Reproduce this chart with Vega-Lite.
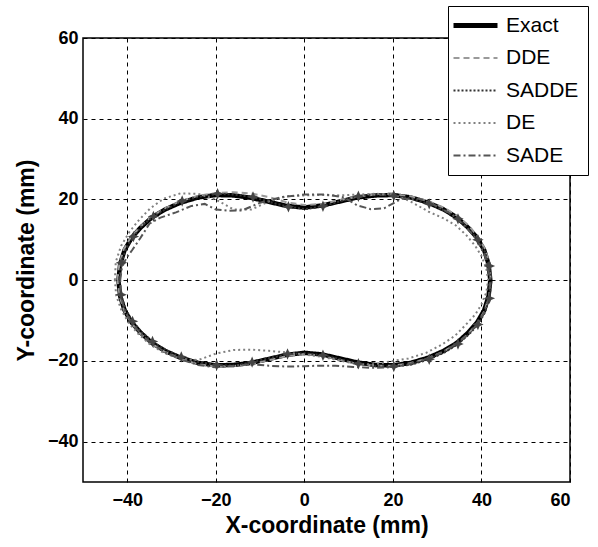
{
  "$schema": "https://vega.github.io/schema/vega-lite/v6.json",
  "width": 487,
  "height": 444,
  "autosize": "none",
  "padding": {"left": 83, "top": 38, "right": 28, "bottom": 65},
  "background": "white",
  "config": {
    "view": {"stroke": "black", "strokeWidth": 1.5},
    "axis": {
      "labelFont": "Liberation Sans", "labelFontWeight": "bold", "labelFontSize": 18, "labelColor": "black",
      "titleFont": "Liberation Sans", "titleFontWeight": "bold", "titleFontSize": 23, "titleColor": "black",
      "grid": true, "gridColor": "black", "gridDash": [4, 4], "gridOpacity": 1, "gridWidth": 1,
      "domain": false, "ticks": false
    },
    "legend": {
      "labelFont": "Liberation Sans", "labelFontSize": 21, "labelColor": "black"
    }
  },
  "data": {"values": [
    {"s":"Exact","i":1,"x":-42.0,"y":0},{"s":"Exact","i":2,"x":-41.6,"y":4},{"s":"Exact","i":3,"x":-40.6,"y":7.5},{"s":"Exact","i":4,"x":-39,"y":10.5},{"s":"Exact","i":5,"x":-37,"y":13},{"s":"Exact","i":6,"x":-34.5,"y":15.5},{"s":"Exact","i":7,"x":-31.5,"y":17.5},{"s":"Exact","i":8,"x":-28,"y":19.2},{"s":"Exact","i":9,"x":-24,"y":20.5},{"s":"Exact","i":10,"x":-20,"y":21.1},{"s":"Exact","i":11,"x":-16,"y":21.0},{"s":"Exact","i":12,"x":-12,"y":20.4},{"s":"Exact","i":13,"x":-8,"y":19.4},{"s":"Exact","i":14,"x":-4,"y":18.4},{"s":"Exact","i":15,"x":0,"y":18.0},{"s":"Exact","i":16,"x":4,"y":18.5},{"s":"Exact","i":17,"x":8,"y":19.5},{"s":"Exact","i":18,"x":12,"y":20.5},{"s":"Exact","i":19,"x":16,"y":21.0},{"s":"Exact","i":20,"x":20,"y":21.1},{"s":"Exact","i":21,"x":24,"y":20.5},{"s":"Exact","i":22,"x":28,"y":19.2},{"s":"Exact","i":23,"x":31.5,"y":17.5},{"s":"Exact","i":24,"x":34.5,"y":15.5},{"s":"Exact","i":25,"x":37,"y":13},{"s":"Exact","i":26,"x":39,"y":10.5},{"s":"Exact","i":27,"x":40.6,"y":7.5},{"s":"Exact","i":28,"x":41.6,"y":4},{"s":"Exact","i":29,"x":42,"y":0},{"s":"Exact","i":30,"x":41.6,"y":-4},{"s":"Exact","i":31,"x":40.6,"y":-7.5},{"s":"Exact","i":32,"x":39,"y":-10.5},{"s":"Exact","i":33,"x":37,"y":-13},{"s":"Exact","i":34,"x":34.5,"y":-15.5},{"s":"Exact","i":35,"x":31.5,"y":-17.5},{"s":"Exact","i":36,"x":28,"y":-19.2},{"s":"Exact","i":37,"x":24,"y":-20.5},{"s":"Exact","i":38,"x":20,"y":-21.1},{"s":"Exact","i":39,"x":16,"y":-21},{"s":"Exact","i":40,"x":12,"y":-20.4},{"s":"Exact","i":41,"x":8,"y":-19.4},{"s":"Exact","i":42,"x":4,"y":-18.4},{"s":"Exact","i":43,"x":0,"y":-18},{"s":"Exact","i":44,"x":-4,"y":-18.5},{"s":"Exact","i":45,"x":-8,"y":-19.5},{"s":"Exact","i":46,"x":-12,"y":-20.5},{"s":"Exact","i":47,"x":-16,"y":-21},{"s":"Exact","i":48,"x":-20,"y":-21.1},{"s":"Exact","i":49,"x":-24,"y":-20.5},{"s":"Exact","i":50,"x":-28,"y":-19.2},{"s":"Exact","i":51,"x":-31.5,"y":-17.5},{"s":"Exact","i":52,"x":-34.5,"y":-15.5},{"s":"Exact","i":53,"x":-37,"y":-13},{"s":"Exact","i":54,"x":-39,"y":-10.5},{"s":"Exact","i":55,"x":-40.6,"y":-7.5},{"s":"Exact","i":56,"x":-41.6,"y":-4},{"s":"Exact","i":57,"x":-42,"y":0},

    {"s":"DDE","i":1,"x":-42.2,"y":0},{"s":"DDE","i":2,"x":-41.8,"y":4},{"s":"DDE","i":3,"x":-40.8,"y":7.6},{"s":"DDE","i":4,"x":-39.2,"y":10.6},{"s":"DDE","i":5,"x":-37.1,"y":13.2},{"s":"DDE","i":6,"x":-34.6,"y":15.7},{"s":"DDE","i":7,"x":-31.5,"y":17.8},{"s":"DDE","i":8,"x":-28,"y":19.6},{"s":"DDE","i":9,"x":-24,"y":20.9},{"s":"DDE","i":10,"x":-20,"y":21.6},{"s":"DDE","i":11,"x":-16,"y":21.8},{"s":"DDE","i":12,"x":-12,"y":21.5},{"s":"DDE","i":13,"x":-8,"y":20.6},{"s":"DDE","i":14,"x":-4,"y":19.3},{"s":"DDE","i":15,"x":0,"y":18.6},{"s":"DDE","i":16,"x":4,"y":18.9},{"s":"DDE","i":17,"x":8,"y":19.8},{"s":"DDE","i":18,"x":12,"y":20.7},{"s":"DDE","i":19,"x":16,"y":21.2},{"s":"DDE","i":20,"x":20,"y":21.3},{"s":"DDE","i":21,"x":24,"y":20.8},{"s":"DDE","i":22,"x":28,"y":19.6},{"s":"DDE","i":23,"x":31.6,"y":17.9},{"s":"DDE","i":24,"x":34.8,"y":15.8},{"s":"DDE","i":25,"x":37.3,"y":13.3},{"s":"DDE","i":26,"x":39.3,"y":10.6},{"s":"DDE","i":27,"x":40.9,"y":7.5},{"s":"DDE","i":28,"x":41.8,"y":4},{"s":"DDE","i":29,"x":42.1,"y":0},{"s":"DDE","i":30,"x":41.7,"y":-4},{"s":"DDE","i":31,"x":40.7,"y":-7.6},{"s":"DDE","i":32,"x":39.1,"y":-10.6},{"s":"DDE","i":33,"x":37.1,"y":-13.2},{"s":"DDE","i":34,"x":34.5,"y":-15.7},{"s":"DDE","i":35,"x":31.4,"y":-17.7},{"s":"DDE","i":36,"x":27.8,"y":-19.4},{"s":"DDE","i":37,"x":23.8,"y":-20.6},{"s":"DDE","i":38,"x":19.8,"y":-21.2},{"s":"DDE","i":39,"x":15.8,"y":-21.2},{"s":"DDE","i":40,"x":11.8,"y":-20.7},{"s":"DDE","i":41,"x":7.8,"y":-19.7},{"s":"DDE","i":42,"x":3.8,"y":-18.7},{"s":"DDE","i":43,"x":0,"y":-18.3},{"s":"DDE","i":44,"x":-4,"y":-18.8},{"s":"DDE","i":45,"x":-8,"y":-19.8},{"s":"DDE","i":46,"x":-12,"y":-20.8},{"s":"DDE","i":47,"x":-16,"y":-21.3},{"s":"DDE","i":48,"x":-20,"y":-21.4},{"s":"DDE","i":49,"x":-24,"y":-20.8},{"s":"DDE","i":50,"x":-28,"y":-19.5},{"s":"DDE","i":51,"x":-31.6,"y":-17.7},{"s":"DDE","i":52,"x":-34.6,"y":-15.7},{"s":"DDE","i":53,"x":-37.1,"y":-13.2},{"s":"DDE","i":54,"x":-39.1,"y":-10.6},{"s":"DDE","i":55,"x":-40.7,"y":-7.6},{"s":"DDE","i":56,"x":-41.7,"y":-4},{"s":"DDE","i":57,"x":-42.2,"y":0},

    {"s":"SADDE","i":1,"x":-41.8,"y":0.5},{"s":"SADDE","i":2,"x":-41.3,"y":4.3},{"s":"SADDE","i":3,"x":-40.3,"y":7.8},{"s":"SADDE","i":4,"x":-38.6,"y":10.8},{"s":"SADDE","i":5,"x":-36.7,"y":13.5},{"s":"SADDE","i":6,"x":-34.1,"y":15.8},{"s":"SADDE","i":7,"x":-31.1,"y":17.7},{"s":"SADDE","i":8,"x":-27.6,"y":19.6},{"s":"SADDE","i":9,"x":-23.6,"y":20.7},{"s":"SADDE","i":10,"x":-19.6,"y":21.4},{"s":"SADDE","i":11,"x":-15.6,"y":21.2},{"s":"SADDE","i":12,"x":-11.6,"y":20.6},{"s":"SADDE","i":13,"x":-7.6,"y":19.3},{"s":"SADDE","i":14,"x":-3.6,"y":18.2},{"s":"SADDE","i":15,"x":0.2,"y":17.6},{"s":"SADDE","i":16,"x":4.2,"y":18.3},{"s":"SADDE","i":17,"x":8.2,"y":19.6},{"s":"SADDE","i":18,"x":12.2,"y":20.8},{"s":"SADDE","i":19,"x":16.2,"y":21.3},{"s":"SADDE","i":20,"x":20.2,"y":20.9},{"s":"SADDE","i":21,"x":24.2,"y":20.2},{"s":"SADDE","i":22,"x":28.2,"y":18.9},{"s":"SADDE","i":23,"x":31.7,"y":17.2},{"s":"SADDE","i":24,"x":34.7,"y":15.2},{"s":"SADDE","i":25,"x":37.2,"y":12.6},{"s":"SADDE","i":26,"x":39.2,"y":10.0},{"s":"SADDE","i":27,"x":40.8,"y":7},{"s":"SADDE","i":28,"x":41.8,"y":3.5},{"s":"SADDE","i":29,"x":42.2,"y":-0.5},{"s":"SADDE","i":30,"x":41.8,"y":-4.5},{"s":"SADDE","i":31,"x":40.8,"y":-8},{"s":"SADDE","i":32,"x":39.2,"y":-11},{"s":"SADDE","i":33,"x":37.2,"y":-13.4},{"s":"SADDE","i":34,"x":34.7,"y":-15.8},{"s":"SADDE","i":35,"x":31.7,"y":-17.9},{"s":"SADDE","i":36,"x":28.2,"y":-19.6},{"s":"SADDE","i":37,"x":24.2,"y":-20.9},{"s":"SADDE","i":38,"x":20.2,"y":-21.4},{"s":"SADDE","i":39,"x":16.2,"y":-21.3},{"s":"SADDE","i":40,"x":12.2,"y":-20.7},{"s":"SADDE","i":41,"x":8.2,"y":-19.6},{"s":"SADDE","i":42,"x":4.2,"y":-18.6},{"s":"SADDE","i":43,"x":0.2,"y":-18.1},{"s":"SADDE","i":44,"x":-3.8,"y":-18.3},{"s":"SADDE","i":45,"x":-7.8,"y":-19.3},{"s":"SADDE","i":46,"x":-11.8,"y":-20.3},{"s":"SADDE","i":47,"x":-15.8,"y":-21.2},{"s":"SADDE","i":48,"x":-19.8,"y":-21},{"s":"SADDE","i":49,"x":-23.8,"y":-20.3},{"s":"SADDE","i":50,"x":-27.8,"y":-19.0},{"s":"SADDE","i":51,"x":-31.3,"y":-17.3},{"s":"SADDE","i":52,"x":-34.3,"y":-15.2},{"s":"SADDE","i":53,"x":-36.8,"y":-12.8},{"s":"SADDE","i":54,"x":-38.8,"y":-10.2},{"s":"SADDE","i":55,"x":-40.4,"y":-7.2},{"s":"SADDE","i":56,"x":-41.4,"y":-3.6},{"s":"SADDE","i":57,"x":-41.8,"y":0.5},

    {"s":"DE","i":1,"x":-42.8,"y":0},{"s":"DE","i":2,"x":-42.6,"y":4.5},{"s":"DE","i":3,"x":-41.4,"y":8.5},{"s":"DE","i":4,"x":-39.5,"y":12},{"s":"DE","i":5,"x":-37.3,"y":15},{"s":"DE","i":6,"x":-34.8,"y":17.8},{"s":"DE","i":7,"x":-31.8,"y":20.2},{"s":"DE","i":8,"x":-28,"y":21.5},{"s":"DE","i":9,"x":-24,"y":21.4},{"s":"DE","i":10,"x":-20,"y":20},{"s":"DE","i":11,"x":-16,"y":17.5},{"s":"DE","i":12,"x":-12,"y":17.5},{"s":"DE","i":13,"x":-8,"y":19.5},{"s":"DE","i":14,"x":-4,"y":20.8},{"s":"DE","i":15,"x":0,"y":21},{"s":"DE","i":16,"x":4,"y":21.1},{"s":"DE","i":17,"x":8,"y":21},{"s":"DE","i":18,"x":12,"y":21.2},{"s":"DE","i":19,"x":16,"y":21.4},{"s":"DE","i":20,"x":20,"y":21.3},{"s":"DE","i":21,"x":24,"y":19.5},{"s":"DE","i":22,"x":28,"y":17},{"s":"DE","i":23,"x":31.5,"y":15.3},{"s":"DE","i":24,"x":34.3,"y":13.5},{"s":"DE","i":25,"x":36.7,"y":11},{"s":"DE","i":26,"x":38.6,"y":8.5},{"s":"DE","i":27,"x":40,"y":6},{"s":"DE","i":28,"x":41.1,"y":3},{"s":"DE","i":29,"x":41.5,"y":0},{"s":"DE","i":30,"x":41.1,"y":-3},{"s":"DE","i":31,"x":40,"y":-6},{"s":"DE","i":32,"x":38.6,"y":-8.5},{"s":"DE","i":33,"x":36.5,"y":-11},{"s":"DE","i":34,"x":34,"y":-13.8},{"s":"DE","i":35,"x":31,"y":-16},{"s":"DE","i":36,"x":27.5,"y":-18},{"s":"DE","i":37,"x":23.5,"y":-19.4},{"s":"DE","i":38,"x":20,"y":-20},{"s":"DE","i":39,"x":16,"y":-20.8},{"s":"DE","i":40,"x":12,"y":-20.8},{"s":"DE","i":41,"x":8,"y":-19.9},{"s":"DE","i":42,"x":4,"y":-19.0},{"s":"DE","i":43,"x":0,"y":-18.4},{"s":"DE","i":44,"x":-4,"y":-17.9},{"s":"DE","i":45,"x":-8,"y":-17.5},{"s":"DE","i":46,"x":-12,"y":-17.2},{"s":"DE","i":47,"x":-16,"y":-17.3},{"s":"DE","i":48,"x":-20,"y":-18.2},{"s":"DE","i":49,"x":-24,"y":-19.8},{"s":"DE","i":50,"x":-28,"y":-19.5},{"s":"DE","i":51,"x":-31.8,"y":-18},{"s":"DE","i":52,"x":-35,"y":-15.8},{"s":"DE","i":53,"x":-37.6,"y":-13.2},{"s":"DE","i":54,"x":-39.8,"y":-10.4},{"s":"DE","i":55,"x":-41.4,"y":-7.2},{"s":"DE","i":56,"x":-42.5,"y":-3.8},{"s":"DE","i":57,"x":-42.8,"y":0},

    {"s":"SADE","i":1,"x":-41.6,"y":0},{"s":"SADE","i":2,"x":-41.2,"y":3.2},{"s":"SADE","i":3,"x":-40.2,"y":5.5},{"s":"SADE","i":4,"x":-38.8,"y":7.6},{"s":"SADE","i":5,"x":-37,"y":10.5},{"s":"SADE","i":6,"x":-35,"y":14},{"s":"SADE","i":7,"x":-32.5,"y":15.5},{"s":"SADE","i":8,"x":-29,"y":16.8},{"s":"SADE","i":9,"x":-25.5,"y":18.4},{"s":"SADE","i":10,"x":-22.5,"y":18.9},{"s":"SADE","i":11,"x":-20,"y":17.5},{"s":"SADE","i":12,"x":-17,"y":17.2},{"s":"SADE","i":13,"x":-14,"y":17.3},{"s":"SADE","i":14,"x":-10,"y":19.2},{"s":"SADE","i":15,"x":-5,"y":20.6},{"s":"SADE","i":16,"x":0,"y":21.2},{"s":"SADE","i":17,"x":5,"y":21.2},{"s":"SADE","i":18,"x":9,"y":20.5},{"s":"SADE","i":19,"x":12,"y":18.5},{"s":"SADE","i":20,"x":15,"y":17.6},{"s":"SADE","i":21,"x":18,"y":17.8},{"s":"SADE","i":22,"x":22,"y":20.2},{"s":"SADE","i":23,"x":26,"y":20.2},{"s":"SADE","i":24,"x":30,"y":18.3},{"s":"SADE","i":25,"x":33.5,"y":16.2},{"s":"SADE","i":26,"x":36.5,"y":13.2},{"s":"SADE","i":27,"x":39,"y":10},{"s":"SADE","i":28,"x":40.8,"y":6},{"s":"SADE","i":29,"x":42,"y":0},{"s":"SADE","i":30,"x":41.6,"y":-4.5},{"s":"SADE","i":31,"x":40.6,"y":-8},{"s":"SADE","i":32,"x":39,"y":-11},{"s":"SADE","i":33,"x":36.8,"y":-13.6},{"s":"SADE","i":34,"x":34,"y":-16},{"s":"SADE","i":35,"x":30.8,"y":-18},{"s":"SADE","i":36,"x":27,"y":-19.7},{"s":"SADE","i":37,"x":23,"y":-21},{"s":"SADE","i":38,"x":19,"y":-21.6},{"s":"SADE","i":39,"x":15,"y":-21.7},{"s":"SADE","i":40,"x":11,"y":-21.5},{"s":"SADE","i":41,"x":7,"y":-21.2},{"s":"SADE","i":42,"x":3,"y":-21.2},{"s":"SADE","i":43,"x":0,"y":-21.3},{"s":"SADE","i":44,"x":-4,"y":-21.4},{"s":"SADE","i":45,"x":-8,"y":-21.2},{"s":"SADE","i":46,"x":-12,"y":-20.8},{"s":"SADE","i":47,"x":-16,"y":-21.2},{"s":"SADE","i":48,"x":-20,"y":-21.6},{"s":"SADE","i":49,"x":-24,"y":-21},{"s":"SADE","i":50,"x":-28,"y":-19.6},{"s":"SADE","i":51,"x":-31.5,"y":-17.8},{"s":"SADE","i":52,"x":-34.5,"y":-15.7},{"s":"SADE","i":53,"x":-37,"y":-13.2},{"s":"SADE","i":54,"x":-39,"y":-10.6},{"s":"SADE","i":55,"x":-40.6,"y":-7.6},{"s":"SADE","i":56,"x":-41.4,"y":-4},{"s":"SADE","i":57,"x":-41.6,"y":0}
  ]},
  "encoding": {
    "x": {"field": "x", "type": "quantitative", "scale": {"domain": [-50, 60], "nice": false, "zero": false},
          "axis": {"values": [-40, -20, 0, 20, 40, 60], "title": "X-coordinate (mm)", "labelPadding": 9, "titlePadding": 5}},
    "y": {"field": "y", "type": "quantitative", "scale": {"domain": [-50, 60], "nice": false, "zero": false},
          "axis": {"values": [-40, -20, 0, 20, 40, 60], "title": "Y-coordinate (mm)", "labelPadding": 5, "titlePadding": 9}},
    "order": {"field": "i", "type": "quantitative"},
    "color": {"field": "s", "type": "nominal",
      "scale": {"domain": ["Exact", "DDE", "SADDE", "DE", "SADE"], "range": ["#000000", "#9a9a9a", "#333333", "#808080", "#555555"]},
      "legend": {"title": null, "orient": "none", "legendX": 365, "legendY": -32, "direction": "vertical",
                 "strokeColor": "black", "fillColor": "white", "padding": 9, "symbolType": "stroke",
                 "symbolSize": 1936, "symbolStrokeWidth": 2, "symbolOffset": 8, "rowPadding": 10.5, "labelOffset": 20, "offset": 0,
                 "encode": {"symbols": {"update": {"strokeWidth": {"signal": "datum.value == 'Exact' ? 5 : 2"}}}}}},
    "strokeDash": {"field": "s", "type": "nominal",
      "scale": {"domain": ["Exact", "DDE", "SADDE", "DE", "SADE"], "range": [[1, 0], [6, 4], [2, 2], [2, 3], [7, 3, 2, 3]]},
      "legend": {"title": null}}
  },
  "layer": [
    {
      "transform": [{"filter": "datum.s == 'Exact'"}],
      "mark": {"type": "line", "clip": true, "strokeWidth": 4.5, "strokeCap": "butt"}
    },
    {
      "transform": [{"filter": "datum.s != 'Exact'"}],
      "mark": {"type": "line", "clip": true, "strokeWidth": 2, "strokeCap": "butt"}
    },
    {
      "transform": [{"filter": "datum.s == 'SADDE' && datum.i % 2 == 0"}],
      "mark": {"type": "point", "shape": "M0,-1L0.3,-0.3L1,0L0.3,0.3L0,1L-0.3,0.3L-1,0L-0.3,-0.3Z", "filled": true, "size": 130, "opacity": 1},
      "encoding": {"color": {"value": "#444444"}, "strokeDash": {"value": [1, 0]}}
    }
  ]
}
